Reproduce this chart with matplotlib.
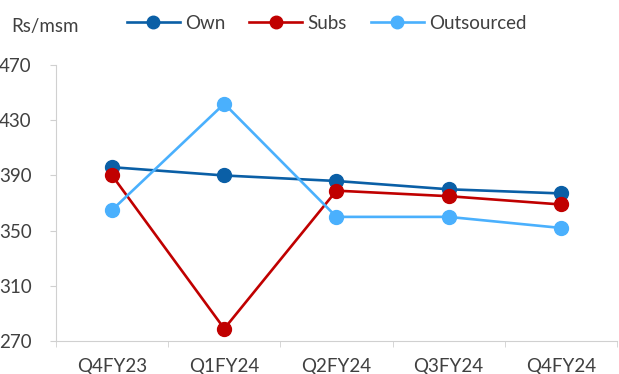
import matplotlib.pyplot as plt

quarters = ["Q4FY23", "Q1FY24", "Q2FY24", "Q3FY24", "Q4FY24"]
own = [396, 390, 386, 380, 377]
subs = [390, 279, 379, 375, 369]
outsourced = [365, 442, 360, 360, 352]

plt.rcParams['font.family'] = ['Lato', 'DejaVu Sans']
txt = '#404040'

fig = plt.figure(figsize=(6.19, 3.74), dpi=100)
ax = fig.add_axes([0.0905, 0.088, 0.906, 0.738])

x = range(len(quarters))
ms = 10
lw = 1.9
ax.plot(x, own, '-o', color='#0A5FA6', lw=lw, ms=ms, label='Own', zorder=3)
ax.plot(x, subs, '-o', color='#C00000', lw=lw, ms=ms, label='Subs', zorder=3)
ax.plot(x, outsourced, '-o', color='#4AB0FD', lw=lw, ms=ms, label='Outsourced', zorder=3)

ax.set_xlim(-0.5, len(quarters) - 0.5)
ax.set_ylim(270, 470)
ax.set_yticks([270, 310, 350, 390, 430, 470])
ax.set_xticks(list(x))
ax.set_xticklabels(quarters)
ax.set_xticks([i - 0.5 for i in range(len(quarters) + 1)], minor=True)
ax.tick_params(axis='x', which='major', length=0, pad=12, labelsize=13.5, labelcolor=txt)
ax.tick_params(axis='x', which='minor', length=4, color='#D0D0D0')
ax.tick_params(axis='y', length=4.5, color='#D0D0D0', labelsize=13.5, labelcolor=txt, pad=13)
for s in ['top', 'right']:
    ax.spines[s].set_visible(False)
for s in ['left', 'bottom']:
    ax.spines[s].set_color('#D0D0D0')

fig.text(0.018, 0.93, 'Rs/msm', fontsize=13.5, color=txt, va='center')
fig.legend(loc='center left', bbox_to_anchor=(0.205, 0.938), ncol=3, frameon=False,
           fontsize=13.5, handlelength=2.83, handletextpad=0.25, columnspacing=1.3,
           labelcolor=txt, borderaxespad=0, borderpad=0, markerscale=0.9)

plt.savefig("out.png")
